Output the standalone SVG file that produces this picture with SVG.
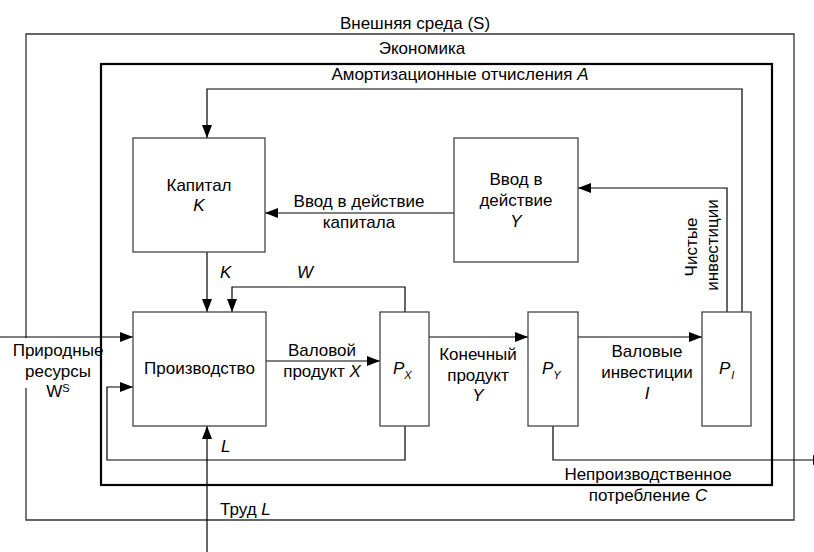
<svg xmlns="http://www.w3.org/2000/svg" width="814" height="552" viewBox="0 0 814 552">
<defs>
<marker id="ah" viewBox="0 0 13 10" refX="13" refY="5" markerWidth="13" markerHeight="10" markerUnits="userSpaceOnUse" orient="auto">
<path d="M0,0 L13,5 L0,10 z" fill="#000"/>
</marker>
<style>
text { font-family: "Liberation Sans", Arial, sans-serif; font-size: 17px; fill: #000; }
.c { text-anchor: middle; }
.i { font-style: italic; }
.sub { font-size: 11px; font-style: italic; }
.sup { font-size: 11px; }
.box { fill: #fff; stroke: #444; stroke-width: 1.3; }
.ln { fill: none; stroke: #000; stroke-width: 1.2; }
.arr { marker-end: url(#ah); }
.frame { fill: none; stroke: #333; stroke-width: 1.3; }
.eco { fill: none; stroke: #000; stroke-width: 2.2; }
</style>
</defs>
<rect width="814" height="552" fill="#fff"/>

<g id="environment">
<path class="frame" d="M26,338 V34 H794 V520 H26 V388"/>
<text class="c" x="415" y="29">Внешняя среда (S)</text>
</g>

<g id="economy">
<rect class="eco" x="101" y="64" width="671" height="421"/>
<text class="c" x="422" y="53.5">Экономика</text>
</g>

<g id="connectors">
<path class="ln arr" d="M742,312 V89 H207 V138"/>
<path class="ln arr" d="M727,312 V188 H578"/>
<path class="ln arr" d="M454,213 H265"/>
<path class="ln arr" d="M207,252 V312"/>
<path class="ln arr" d="M405,312 V287 H232 V312"/>
<path class="ln arr" d="M266,361 H380"/>
<path class="ln arr" d="M429,337 H528"/>
<path class="ln arr" d="M578,337 H702"/>
<path class="ln arr" d="M553,426 V460 H826"/>
<path class="ln arr" d="M405,426 V460 H107 V387 H133"/>
<path class="ln arr" d="M0,337 H133"/>
<path class="ln arr" d="M207,552 V426"/>
</g>

<g id="capital">
<rect class="box" x="133" y="138" width="132" height="114"/>
<text class="c" x="199" y="191">Капитал</text>
<text class="c i" x="199" y="211">K</text>
</g>

<g id="commissioning">
<rect class="box" x="454" y="138" width="124" height="124"/>
<text class="c" x="516" y="185">Ввод в</text>
<text class="c" x="516" y="206">действие</text>
<text class="c i" x="516" y="227">Y</text>
</g>

<g id="production">
<rect class="box" x="133" y="312" width="133" height="114"/>
<text class="c" x="199.5" y="374">Производство</text>
</g>

<g id="px">
<rect class="box" x="380" y="312" width="49" height="114"/>
<text x="393" y="374"><tspan class="i">P</tspan><tspan class="sub" dy="5">X</tspan></text>
</g>

<g id="py">
<rect class="box" x="528" y="312" width="50" height="114"/>
<text x="542" y="374"><tspan class="i">P</tspan><tspan class="sub" dy="5">Y</tspan></text>
</g>

<g id="pi">
<rect class="box" x="702" y="312" width="49" height="114"/>
<text x="719" y="374"><tspan class="i">P</tspan><tspan class="sub" dy="5" dx="1">I</tspan></text>
</g>

<g id="labels">
<text class="c" x="460" y="80">Амортизационные отчисления <tspan class="i">A</tspan></text>
<text class="c" x="359" y="207">Ввод в действие</text>
<text class="c" x="359" y="228">капитала</text>
<text class="i" x="220" y="278">K</text>
<text class="i" x="297" y="278">W</text>
<text class="c" x="322" y="356">Валовой</text>
<text class="c" x="322" y="377">продукт <tspan class="i">X</tspan></text>
<text class="c" x="478" y="360">Конечный</text>
<text class="c" x="478" y="381">продукт</text>
<text class="c i" x="478" y="401">Y</text>
<text class="c" x="647" y="357">Валовые</text>
<text class="c" x="647" y="378">инвестиции</text>
<text class="c i" x="647" y="399">I</text>
<text class="c" x="648" y="480">Непроизводственное</text>
<text class="c" x="648" y="501">потребление <tspan class="i">C</tspan></text>
<text class="c" x="58" y="356">Природные</text>
<text class="c" x="58" y="377">ресурсы</text>
<text class="c" x="58" y="397">W<tspan class="sup" dy="-5">S</tspan></text>
<text class="i" x="221" y="452">L</text>
<text x="220" y="515">Труд <tspan class="i">L</tspan></text>
<text class="c" transform="translate(697,247) rotate(-90)">Чистые</text>
<text class="c" transform="translate(718,245) rotate(-90)">инвестиции</text>
</g>
</svg>
